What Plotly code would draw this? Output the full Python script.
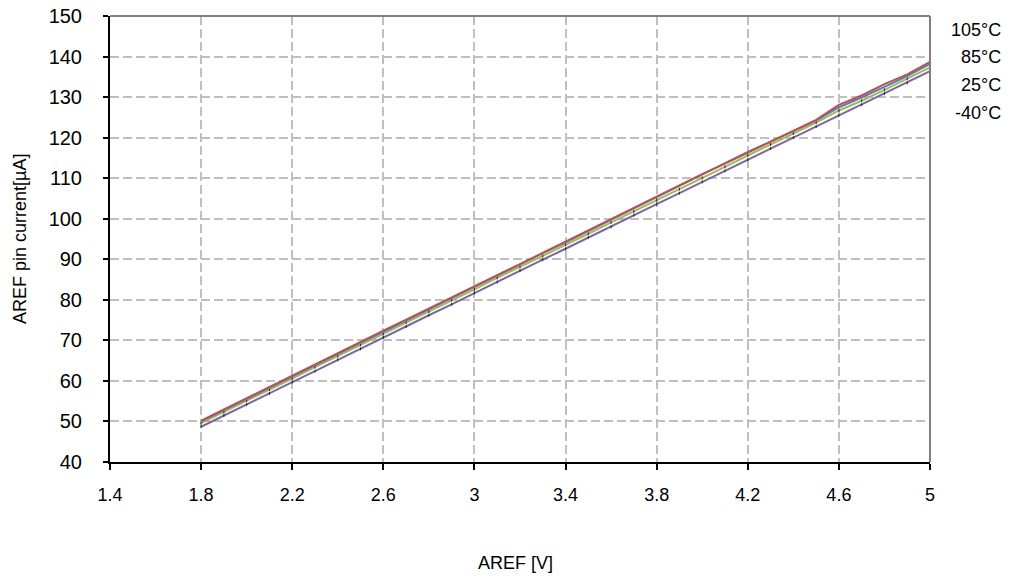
import plotly.graph_objects as go

aref_v = [1.8, 1.9, 2.0, 2.1, 2.2, 2.3, 2.4, 2.5, 2.6, 2.7, 2.8, 2.9, 3.0, 3.1, 3.2, 3.3,
          3.4, 3.5, 3.6, 3.7, 3.8, 3.9, 4.0, 4.1, 4.2, 4.3, 4.4, 4.5, 4.6, 4.7, 4.8, 4.9, 5.0]

i_105 = [50.2, 53.0, 55.8, 58.5, 61.3, 64.1, 66.8, 69.6, 72.4, 75.1, 77.9, 80.7, 83.5, 86.1,
         88.8, 91.6, 94.4, 97.1, 99.9, 102.8, 105.4, 108.3, 111.0, 113.6, 116.3, 119.0, 121.9,
         124.4, 128.1, 130.4, 133.2, 135.6, 138.7]
i_85 = [50.0, 52.8, 55.6, 58.3, 61.1, 63.9, 66.6, 69.4, 72.1, 74.9, 77.7, 80.5, 83.2, 86.0,
        88.8, 91.5, 94.2, 97.0, 99.8, 102.6, 105.3, 108.1, 110.9, 113.8, 116.5, 119.0, 121.6,
        124.2, 127.5, 129.9, 132.5, 135.2, 138.2]
i_25 = [49.6, 52.3, 55.1, 57.8, 60.6, 63.4, 66.1, 68.9, 71.6, 74.4, 77.1, 79.9, 82.6, 85.4,
        88.1, 90.8, 93.6, 96.3, 99.1, 101.8, 104.6, 107.3, 110.1, 112.8, 115.6, 118.3, 121.0,
        123.7, 126.7, 129.1, 131.8, 134.5, 137.3]
i_m40 = [48.7, 51.5, 54.2, 56.9, 59.7, 62.4, 65.2, 67.9, 70.7, 73.4, 76.2, 78.9, 81.7, 84.4,
         87.2, 89.9, 92.6, 95.4, 98.0, 100.9, 103.6, 106.3, 109.1, 111.8, 114.6, 117.3, 120.0,
         122.7, 125.5, 128.1, 130.9, 133.5, 136.4]

series_names = ["-40°C", "25°C", "85°C", "105°C"]
series_vals = [i_m40, i_25, i_85, i_105]
series_colors = ["#8064A2", "#9BBB59", "#4F81BD", "#C0504D"]
series_marks = [True, True, False, False]

legend_labels = ["105°C", "85°C", "25°C", "-40°C"]
legend_ypix = [30, 57, 85, 113]

x_ticks = [1.4, 1.8, 2.2, 2.6, 3.0, 3.4, 3.8, 4.2, 4.6, 5.0]
x_ticktext = ["1.4", "1.8", "2.2", "2.6", "3", "3.4", "3.8", "4.2", "4.6", "5"]
y_ticks = [40, 50, 60, 70, 80, 90, 100, 110, 120, 130, 140, 150]

FONT = "Liberation Sans, Arial, sans-serif"
W, H = 1012, 579
L, T = 110, 16
R = W - 930
B = H - 462
plot_h = H - T - B

fig = go.Figure()
for name, vals, col, mk in zip(series_names, series_vals, series_colors, series_marks):
    fig.add_trace(go.Scatter(
        x=aref_v, y=vals, name=name, mode="lines+markers" if mk else "lines",
        line=dict(color=col, width=2),
        marker=dict(symbol="line-ns", size=2, color="#222222",
                    line=dict(color="#222222", width=1)),
        showlegend=False,
    ))

grid = dict(showgrid=True, gridcolor="#BFBFBF", gridwidth=1.5, griddash="9px,4px")

fig.update_layout(
    width=W, height=H,
    margin=dict(l=L, r=R, t=T, b=B, autoexpand=False),
    paper_bgcolor="white", plot_bgcolor="white",
    font=dict(family=FONT, size=18, color="black"),
    xaxis=dict(range=[1.4, 5.0], tickvals=x_ticks, ticktext=x_ticktext, automargin=False,
               showline=True, linecolor="black", linewidth=2,
               ticks="outside", ticklen=6, tickwidth=2, tickcolor="black",
               ticklabelstandoff=9, ticklabeloverflow="allow", zeroline=False, **grid),
    yaxis=dict(range=[40, 150], tickvals=y_ticks, tickfont=dict(size=20), automargin=False,
               showline=True, linecolor="black", linewidth=2,
               ticks="outside", ticklen=5, tickwidth=2, tickcolor="black",
               ticklabelstandoff=17, ticklabeloverflow="allow", zeroline=False, **grid),
)

# gray frame top and right
fig.add_shape(type="line", xref="paper", yref="paper", x0=0, x1=1, y0=1, y1=1,
              line=dict(color="#808080", width=2))
fig.add_shape(type="line", xref="paper", yref="paper", x0=1, x1=1, y0=0, y1=1,
              line=dict(color="#808080", width=2))

for lab, yp in zip(legend_labels, legend_ypix):
    fig.add_annotation(text=lab, xref="paper", yref="paper", x=1, xshift=73,
                       xanchor="right", y=(462 - yp) / plot_h, yanchor="middle",
                       showarrow=False, font=dict(family=FONT, size=18))

fig.add_annotation(text="AREF pin current[µA]", xref="paper", yref="paper",
                   x=0, xshift=-90, y=0.5, textangle=-90, showarrow=False,
                   xanchor="center", yanchor="middle", font=dict(family=FONT, size=18))
fig.add_annotation(text="AREF [V]", xref="paper", yref="paper",
                   x=0.5, xshift=-5, y=0, yshift=-101, showarrow=False,
                   xanchor="center", yanchor="middle", font=dict(family=FONT, size=18))

fig.write_html("out.html", config={"displayModeBar": False},
               post_script="document.body.style.margin='0';")
